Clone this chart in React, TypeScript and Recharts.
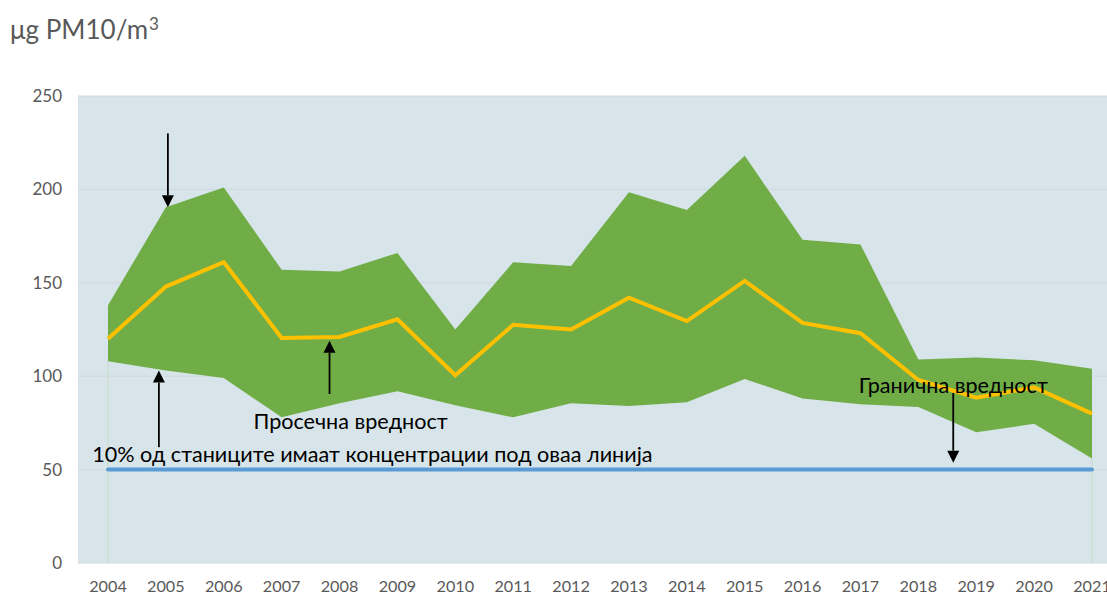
import React from "react";
import {
  ComposedChart,
  Area,
  Line,
  XAxis,
  YAxis,
  CartesianGrid,
  ReferenceLine,
  ReferenceDot,
} from "recharts";

const years = ["2004","2005","2006","2007","2008","2009","2010","2011","2012","2013","2014","2015","2016","2017","2018","2019","2020","2021"];
const maxValues = [138, 190.5, 201, 157, 156, 166, 125, 161, 159, 198.5, 189, 218, 173, 170.5, 109, 110, 108.5, 104];
const minValues = [108, 103, 99, 78, 85.5, 92, 84.5, 78, 85.5, 84, 86, 98.5, 88, 85, 83.5, 70, 74.5, 56];
const averageValues = [120, 148, 161, 120.5, 121, 130.5, 100.5, 127.5, 125, 142, 129.5, 151, 128.5, 123, 98, 88.5, 94, 80];
const limitValues = [50, 50, 50, 50, 50, 50, 50, 50, 50, 50, 50, 50, 50, 50, 50, 50, 50, 50];
const yTicks = [0, 50, 100, 150, 200, 250];

// annotation arrows: category, tail value, tip value, pixel nudge
const arrows = [
  { x: "2005", from: 230, to: 190.5, dx: 2 },
  { x: "2005", from: 62, to: 103, dx: -7 },
  { x: "2008", from: 90.5, to: 119, dx: -10 },
  { x: "2019", from: 91, to: 53.7, dx: -23 },
];
// text annotations: category anchor, baseline value, text, nudge, anchor
const notes = [
  { x: "2008", y: 71.7, text: "Просечна вредност", dx: 11, anchor: "middle" },
  { x: "2009", y: 54, text: "10% од станиците имаат концентрации под оваа линија", dx: -25, anchor: "middle" },
  { x: "2019", y: 91, text: "Гранична вредност", dx: -23, anchor: "middle" },
];

const data = years.map((y, i) => ({
  year: y,
  range: [minValues[i], maxValues[i]],
  avg: averageValues[i],
  limit: limitValues[i],
}));

const FONT = "Lato, 'Open Sans', sans-serif";

const makeArrow = (dx: number) => (props: any) => {
  const { x1, y1, x2, y2 } = props;
  const sign = y2 > y1 ? 1 : -1;
  const head = 12;
  const x = x1 + dx;
  const baseY = y2 - sign * head;
  return (
    <g>
      <line x1={x} y1={y1} x2={x2 + dx} y2={baseY} stroke="#000" strokeWidth={1.8} />
      <polygon points={`${x - 6},${baseY} ${x + 6},${baseY} ${x},${y2}`} fill="#000" />
    </g>
  );
};

const makeText = (text: string, dx: number, anchor: string) => (props: any) => {
  const { cx, cy } = props;
  return (
    <text x={cx + dx} y={cy} textAnchor={anchor} fontFamily={FONT} fontSize={21.6} fill="#000">
      {text}
    </text>
  );
};

export default function App() {
  return (
    <div
      style={{
        position: "absolute",
        left: 0,
        top: 0,
        width: 1107,
        height: 594,
        overflow: "hidden",
        background: "#ffffff",
      }}
    >
      <div
        style={{
          position: "absolute",
          left: 10,
          top: 14,
          fontFamily: FONT,
          fontSize: 26,
          color: "#595959",
          lineHeight: "30px",
          whiteSpace: "nowrap",
        }}
      >
        μg PM10/m<sup style={{ fontSize: 17, verticalAlign: "top", position: "relative", top: -5, marginLeft: 1 }}>3</sup>
      </div>
      <div style={{ position: "absolute", left: 0, top: 0 }}>
        <ComposedChart
          width={1130}
          height={594}
          data={data}
          margin={{ top: 96, right: 8, bottom: 1, left: 0 }}
        >
          <CartesianGrid vertical={false} fill="#d7e4e9" stroke="#d2d8da" strokeWidth={1} />
          <XAxis
            dataKey="year"
            scale="point"
            padding={{ left: 30, right: 30 }}
            axisLine={false}
            tickLine={false}
            tickSize={6}
            tickMargin={11}
            height={30}
            interval={0}
            tick={{ fill: "#595959", fontSize: 16.2, fontFamily: FONT }}
          />
          <YAxis
            width={78}
            domain={[0, 250]}
            ticks={yTicks}
            axisLine={false}
            tickLine={false}
            tickSize={6}
            tickMargin={10}
            tick={{ fill: "#595959", fontSize: 17, fontFamily: FONT }}
          />
          <Area
            dataKey="range"
            type="linear"
            stroke="none"
            fill="#70ad47"
            fillOpacity={1}
            isAnimationActive={false}
          />
          <ReferenceLine
            segment={[{ x: years[0], y: 0 }, { x: years[0], y: minValues[0] }]}
            stroke="#c4dccb"
            strokeWidth={1}
          />
          <ReferenceLine
            segment={[{ x: years[years.length - 1], y: 0 }, { x: years[years.length - 1], y: minValues[minValues.length - 1] }]}
            stroke="#c4dccb"
            strokeWidth={1}
          />
          <Line
            dataKey="limit"
            type="linear"
            stroke="#5b9bd5"
            strokeWidth={4}
            strokeLinecap="round"
            dot={false}
            activeDot={false}
            isAnimationActive={false}
          />
          <Line
            dataKey="avg"
            type="linear"
            stroke="#ffc000"
            strokeWidth={4}
            dot={false}
            activeDot={false}
            isAnimationActive={false}
          />
          {arrows.map((a, i) => (
            <ReferenceLine
              key={"a" + i}
              segment={[{ x: a.x, y: a.from }, { x: a.x, y: a.to }]}
              shape={makeArrow(a.dx)}
            />
          ))}
          {notes.map((n, i) => (
            <ReferenceDot
              key={"n" + i}
              x={n.x}
              y={n.y}
              r={0}
              shape={makeText(n.text, n.dx, n.anchor)}
            />
          ))}
        </ComposedChart>
      </div>
    </div>
  );
}
